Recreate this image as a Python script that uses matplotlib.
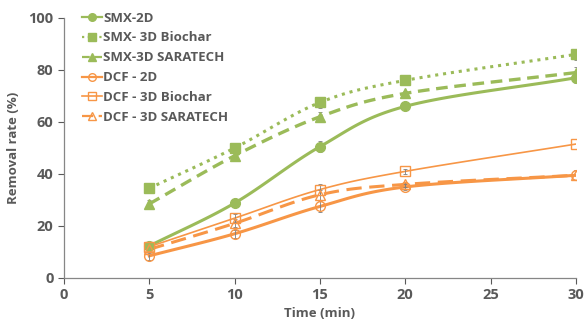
import matplotlib
matplotlib.use("Agg")
import matplotlib.pyplot as plt
import numpy as np

time = [5, 10, 15, 20, 30]
smx_2d = [12.3, 28.8, 50.5, 66.0, 77.0]
smx_bio = [34.5, 50.0, 67.5, 76.0, 86.0]
smx_sara = [28.5, 47.0, 62.0, 71.0, 79.0]
dcf_2d = [8.5, 17.0, 27.5, 35.0, 39.5]
dcf_bio = [12.0, 23.0, 34.0, 41.0, 51.5]
dcf_sara = [11.0, 21.0, 32.0, 36.0, 39.5]
err = [1.5, 1.5, 2.0, 1.0, 2.0]

GREEN, ORANGE = "#9BBB59", "#F79646"
plt.rcParams["font.family"] = ["Open Sans", "DejaVu Sans"]
plt.rcParams["font.weight"] = "bold"


def smooth(x, y, n=30):
    # Catmull-Rom style curve through the points (like Excel's smoothed line)
    x = np.asarray(x, float); y = np.asarray(y, float)
    px = np.concatenate([[2 * x[0] - x[1]], x, [2 * x[-1] - x[-2]]])
    py = np.concatenate([[2 * y[0] - y[1]], y, [2 * y[-1] - y[-2]]])
    xs, ys = [], []
    t = np.linspace(0, 1, n)
    for i in range(1, len(px) - 2):
        for p, out in ((px, xs), (py, ys)):
            p0, p1, p2, p3 = p[i - 1], p[i], p[i + 1], p[i + 2]
            m1 = (p2 - p0) / 6; m2 = (p3 - p1) / 6
            c = ((1 - t) ** 3 * p1 + 3 * (1 - t) ** 2 * t * (p1 + m1)
                 + 3 * (1 - t) * t ** 2 * (p2 - m2) + t ** 3 * p2)
            out.extend(c)
    return np.array(xs), np.array(ys)


fig = plt.figure(figsize=(5.87, 3.27), dpi=100)
ax = fig.add_axes([0.109, 0.150, 0.872, 0.795])

series = [
    ("SMX-2D", smx_2d, GREEN, "-", 2.2, "o", True),
    ("SMX- 3D Biochar", smx_bio, GREEN, (0, (1, 1.6)), 2.2, "s", True),
    ("SMX-3D SARATECH", smx_sara, GREEN, (0, (3.5, 2)), 2.4, "^", True),
    ("DCF - 2D", dcf_2d, ORANGE, "-", 2.2, "o", False),
    ("DCF - 3D Biochar", dcf_bio, ORANGE, "-", 1.2, "s", False),
    ("DCF - 3D SARATECH", dcf_sara, ORANGE, (0, (5, 2.5)), 2.2, "^", False),
]

for label, vals, col, ls, lw, mk, filled in series:
    sx, sy = smooth(time, vals)
    ax.plot(sx, sy, color=col, ls=ls, lw=lw, zorder=2)
    ax.errorbar(time, vals, yerr=err, fmt="none", ecolor="#7f7f7f",
                elinewidth=0.6, capsize=1.5, capthick=0.6, zorder=3)
    ax.plot(time, vals, ls="none", marker=mk, ms=7,
            mfc=col if filled else "none", mec=col, mew=1.0, zorder=4)
    ax.plot([], [], color=col, ls=ls, lw=min(lw, 1.6), marker=mk, ms=5.5,
            mfc=col if filled else "none", mec=col, label=label)

ax.set_xlim(0, 30)
ax.set_ylim(0, 100)
ax.set_xticks(range(0, 31, 5))
ax.set_yticks(range(0, 101, 20))
ax.set_xlabel("Time (min)", fontsize=9.5, color="#595959", fontweight="bold", labelpad=3)
ax.set_ylabel("Removal rate (%)", fontsize=9.5, color="#595959", fontweight="bold", labelpad=6)
ax.tick_params(labelsize=10.5, colors="#595959", length=4, width=0.8, direction="out")
for s in ("top", "right"):
    ax.spines[s].set_visible(False)
for s in ("left", "bottom"):
    ax.spines[s].set_color("#868686")
    ax.spines[s].set_linewidth(0.9)

leg = ax.legend(loc="upper left", bbox_to_anchor=(0.022, 1.05), frameon=False,
                fontsize=9.5, handlelength=1.5, handletextpad=0.1, labelspacing=0.52,
                borderpad=0)
for t in leg.get_texts():
    t.set_color("#595959")

fig.savefig("out.png", dpi=100)
